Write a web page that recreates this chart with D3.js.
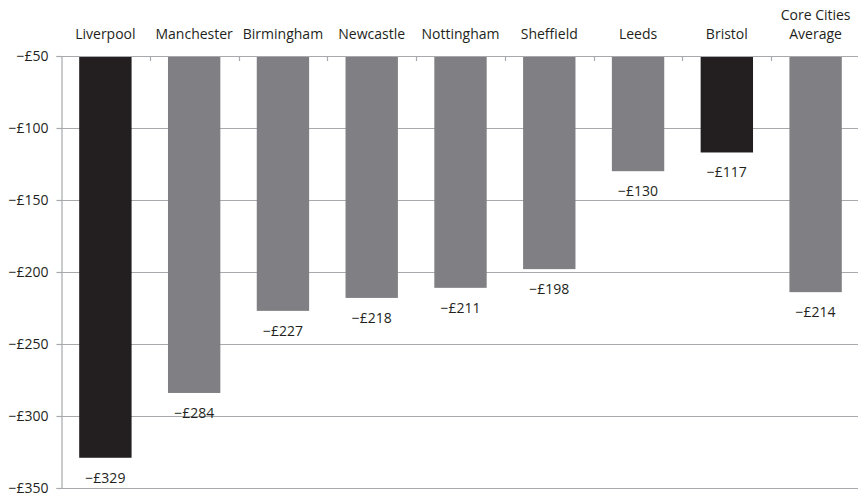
<!DOCTYPE html>
<html>
<head>
<meta charset="utf-8">
<script src="https://cdn.jsdelivr.net/npm/d3@7"></script>
<style>
  body { margin: 0; background: #fff; }
  text { font-family: "Open Sans", "DejaVu Sans", sans-serif; fill: #231f20; }
</style>
</head>
<body>
<div id="chart"></div>
<script>
// per-city values
const cities = ["Liverpool", "Manchester", "Birmingham", "Newcastle", "Nottingham", "Sheffield", "Leeds", "Bristol", "Core Cities|Average"];
const values = [-329, -284, -227, -218, -211, -198, -130, -117, -214];
const highlighted = ["Liverpool", "Bristol"];
const yTicks = [-50, -100, -150, -200, -250, -300, -350];

const width = 858, height = 498;
const margin = {top: 56, right: 0, bottom: 10, left: 61};
const fontSize = "14px";

const svg = d3.select("#chart").append("svg")
  .attr("width", width)
  .attr("height", height);

const x = d3.scaleBand()
  .domain(cities)
  .range([margin.left, width - margin.right + 2])
  .paddingInner(0.41)
  .paddingOuter(0.205);

const y = d3.scaleLinear()
  .domain([-50, -350])
  .range([margin.top, 488]);

const fmt = (v) => "\u2212\u00a3" + Math.abs(v);

// gridlines
svg.append("g")
  .selectAll("line")
  .data(yTicks)
  .join("line")
  .attr("x1", margin.left)
  .attr("x2", width)
  .attr("y1", (d) => Math.round(y(d)) + 0.5)
  .attr("y2", (d) => Math.round(y(d)) + 0.5)
  .attr("stroke", "#a7a9ac")
  .attr("stroke-width", 1.2);

// y axis
let yAxis = svg.append("g")
  .attr("transform", `translate(${margin.left + 0.5},0)`)
  .call(d3.axisLeft(y).tickValues(yTicks).tickSize(5).tickFormat(fmt));
yAxis.select(".domain").attr("stroke", "#a7a9ac").attr("stroke-width", 1.2);
yAxis.selectAll(".tick line").attr("stroke", "#a7a9ac").attr("stroke-width", 1.2);
yAxis.selectAll(".tick text")
  .attr("x", -13)
  .style("font-size", fontSize)
  .style("font-family", "'Open Sans', sans-serif")
  .attr("fill", "#231f20");

// category boundary ticks hanging off the top line
const step = x.step();
const bounds = d3.range(1, cities.length).map((i) => margin.left + i * step);
svg.append("g")
  .selectAll("line")
  .data(bounds)
  .join("line")
  .attr("x1", (d) => Math.round(d) + 0.5)
  .attr("x2", (d) => Math.round(d) + 0.5)
  .attr("y1", y(-50))
  .attr("y2", y(-50) + 5)
  .attr("stroke", "#a7a9ac")
  .attr("stroke-width", 1.2);

// bars
svg.append("g")
  .selectAll("rect")
  .data(cities)
  .join("rect")
  .attr("x", (d) => x(d))
  .attr("width", x.bandwidth())
  .attr("y", y(-50) + 1)
  .attr("height", (d, i) => y(values[i]) - y(-50) - 1)
  .attr("fill", (d) => highlighted.includes(d) ? "#231f20" : "#808084");

// value labels under each bar
svg.append("g")
  .selectAll("text")
  .data(cities)
  .join("text")
  .attr("x", (d) => x(d) + x.bandwidth() / 2)
  .attr("y", (d, i) => y(values[i]) + 25)
  .attr("text-anchor", "middle")
  .style("font-size", fontSize)
  .text((d, i) => fmt(values[i]));

// category labels above the chart
let cat = svg.append("g")
  .selectAll("text")
  .data(cities)
  .join("text")
  .attr("x", (d) => x(d) + x.bandwidth() / 2)
  .attr("text-anchor", "middle")
  .style("font-size", fontSize);

cat.each(function(d) {
  let lines = d.split("|");
  let t = d3.select(this);
  lines.forEach((l, i) => {
    t.append("tspan")
      .attr("x", x(d) + x.bandwidth() / 2)
      .attr("y", 39 - (lines.length - 1 - i) * 19)
      .text(l);
  });
});
</script>
</body>
</html>
